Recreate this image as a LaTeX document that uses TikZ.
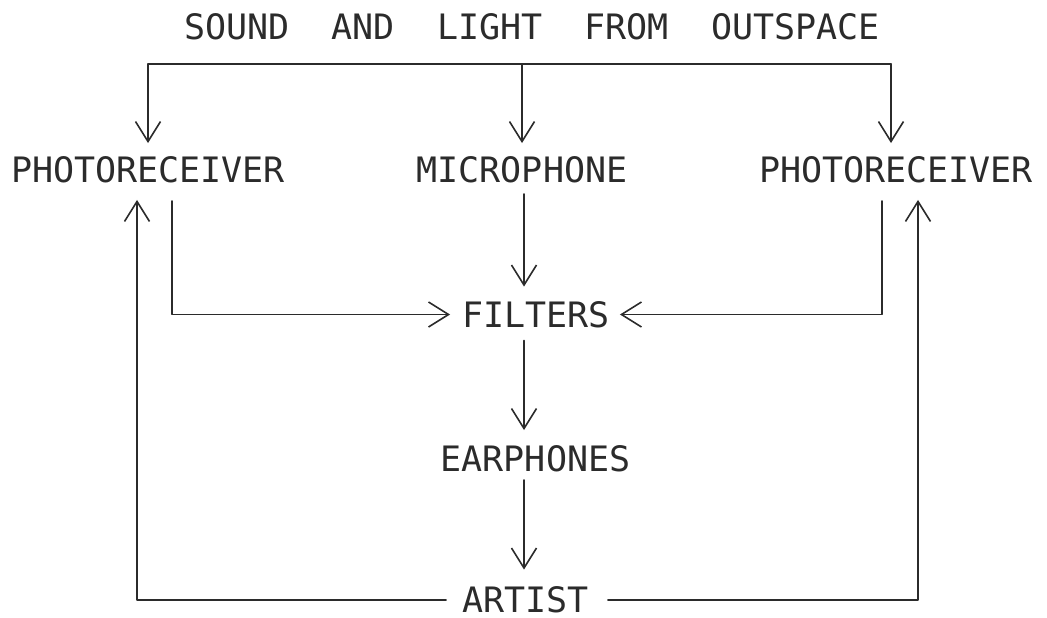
\documentclass[tikz,border=0pt]{standalone}
\usepackage{fontspec}
\newfontfamily\plotfont{DejaVu Sans Mono}
\usetikzlibrary{arrows.meta,calc}
\definecolor{ink}{HTML}{2B2B2B}
\begin{document}
\begin{tikzpicture}[x=1pt,y=-1pt,
  lbl/.style={inner sep=0pt, text height=25.5pt, text depth=0pt, text=ink,
    font=\plotfont\fontsize{35}{40}\selectfont},
  wire/.style={draw=ink, line width=1.6pt, line cap=round, line join=round},
  arr/.style={wire, -{Straight Barb[length=20pt,width=25pt,line width=1.6pt]}}]
\useasboundingbox (0,0) rectangle (1047,618);
\node[lbl] (title) at (532,26.5) {SOUND~~AND~~LIGHT~~FROM~~OUTSPACE};
\node[lbl] (prl) at (148,170) {PHOTORECEIVER};
\node[lbl] (mic) at (522,170) {MICROPHONE};
\node[lbl] (prr) at (896,170) {PHOTORECEIVER};
\node[lbl] (fil) at (536,314.5) {FILTERS};
\node[lbl] (ear) at (535.5,459) {EARPHONES};
\node[lbl] (art) at (525.5,600) {ARTIST};
\coordinate (bl) at (148,64);
\coordinate (bm) at (522,64);
\coordinate (br) at (891,64);
\draw[wire] (bl) -- (br);
\draw[arr] (bl) -- ($(bl|-prl.north)+(0,-14)$);
\draw[arr] (bm) -- ($(bm|-mic.north)+(0,-14)$);
\draw[arr] (br) -- ($(br|-prr.north)+(0,-14)$);
\draw[arr] ($(mic.south)+(2,11)$) -- ($(mic.south|-fil.north)+(2,-15)$);
\draw[arr] ($(fil.south)+(-12,13)$) -- ($(fil.south|-ear.north)+(-12,-16)$);
\draw[arr] ($(ear.south)+(-11.5,8)$) -- ($(ear.south|-art.north)+(-11.5,-17.5)$);
\draw[arr] ($(prl.south)+(24,18)$) |- ($(fil.west)+(-12,0)$);
\draw[arr] ($(prr.south)+(-14,18)$) |- ($(fil.east)+(10,0)$);
\draw[arr] ($(art.west)+(-16,0)$) -| ($(prl.south)+(-11,17)$);
\draw[arr] ($(art.east)+(19,0)$) -| ($(prr.south)+(22,17)$);
\end{tikzpicture}
\end{document}
